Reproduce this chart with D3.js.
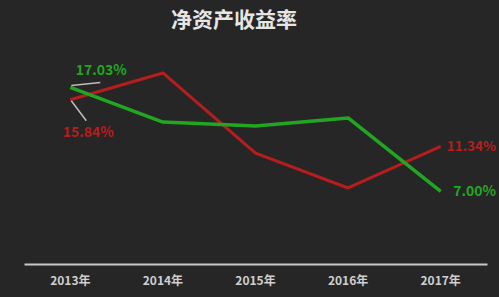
<!DOCTYPE html>
<html><head><meta charset="utf-8">
<script src="https://cdn.jsdelivr.net/npm/d3@7"></script>
<style>html,body{margin:0;padding:0;background:#262626;}svg{display:block;}</style>
</head><body>
<svg id="c" width="499" height="297"></svg>
<script>
const categories = ["2013年","2014年","2015年","2016年","2017年"];
const greenValues = [17.03, 13.69, 13.3, 14.08, 7.00];
const redValues = [15.84, 18.42, 10.7, 7.33, 11.34];
const title = "净资产收益率";

const svg = d3.select("#c");
const W = 499, H = 297;
svg.append("rect").attr("width", W).attr("height", H).attr("fill", "#262626");
const left = 24, right = 487, bottom = 264;
const x = d3.scaleBand().domain(categories).range([left, right]);
const y = d3.scaleLinear().domain([0, 20]).range([bottom, bottom - 20 * 10.37]);
const cx = d => x(d) + x.bandwidth() / 2;

const font = "'Microsoft YaHei','Noto Sans CJK SC',sans-serif";
svg.append("text").attr("x", 234).attr("y", 27).attr("text-anchor", "middle")
  .attr("font-family", font).attr("font-weight", "bold").attr("font-size", 21)
  .attr("fill", "#e6e6e6").text(title);

const axis = d3.axisBottom(x).tickSize(0).tickPadding(12);
const ag = svg.append("g").attr("transform", `translate(0,${bottom})`).call(axis);
ag.select(".domain").attr("stroke", "#c8c8c8").attr("stroke-width", 2);
ag.selectAll("text").attr("font-family", font).attr("font-size", 12).attr("font-weight", "bold")
  .attr("fill", "#cfcfcf");

const line = d3.line().x((d, i) => cx(categories[i])).y(d => y(d));
svg.append("path").datum(redValues).attr("d", line).attr("fill", "none")
  .attr("stroke", "#b81d1d").attr("stroke-width", 3).attr("stroke-linejoin", "round");
svg.append("path").datum(greenValues).attr("d", line).attr("fill", "none")
  .attr("stroke", "#22a622").attr("stroke-width", 3.5).attr("stroke-linejoin", "round");

// leader lines
const x0 = cx(categories[0]);
svg.append("line").attr("x1", x0 + 1).attr("y1", y(greenValues[0]) - 2).attr("x2", x0 + 30).attr("y2", y(greenValues[0]) - 5)
  .attr("stroke", "#bdbdbd").attr("stroke-width", 1.5);
svg.append("line").attr("x1", x0 + 1).attr("y1", y(redValues[0]) + 1).attr("x2", x0 + 16).attr("y2", y(redValues[0]) + 21)
  .attr("stroke", "#bdbdbd").attr("stroke-width", 1.5);

const lab = (tx, ty, txt, col, anchor, fs) => svg.append("text").attr("x", tx).attr("y", ty)
  .attr("text-anchor", anchor).attr("font-family", font).attr("font-weight", "bold")
  .attr("font-size", fs).attr("fill", col).text(txt);
lab(x0 + 31, y(greenValues[0]) - 12, greenValues[0].toFixed(2) + "%", "#22a622", "middle", 14);
lab(x0 + 18, y(redValues[0]) + 37, redValues[0].toFixed(2) + "%", "#b81d1d", "middle", 14);
lab(W - 3, y(redValues[4]) + 5, redValues[4].toFixed(2) + "%", "#b81d1d", "end", 13.5);
lab(W - 3, y(greenValues[4]) + 5, greenValues[4].toFixed(2) + "%", "#22a622", "end", 14);
</script>
</body></html>
